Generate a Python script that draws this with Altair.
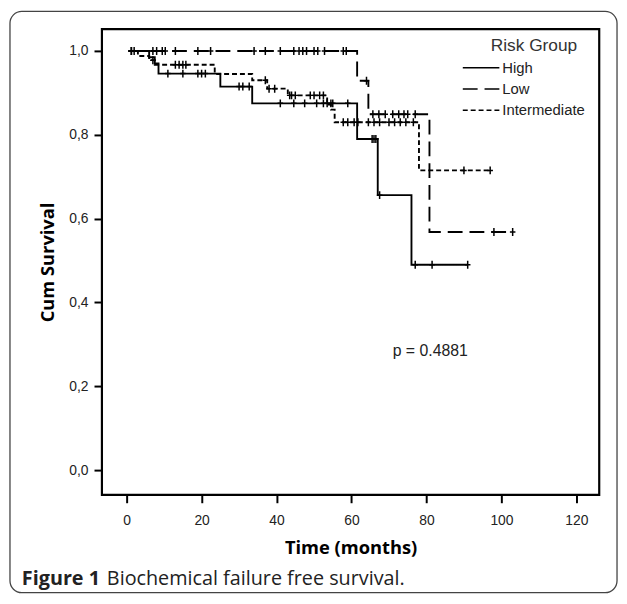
import altair as alt
import pandas as pd

groups = ["High", "Low", "Intermediate"]

# Kaplan-Meier step points (time in months, cumulative survival)
high_t = [0.5, 6, 7.5, 8.5, 25, 33.5, 61.5, 67, 76, 91]
high_s = [1.0, 0.985, 0.97, 0.946, 0.915, 0.875, 0.79, 0.656, 0.49, 0.49]
low_t = [0.5, 61.5, 64.5, 80.8, 103]
low_s = [1.0, 0.929, 0.849, 0.568, 0.568]
int_t = [0.5, 3, 6, 7.5, 23.5, 33.5, 37.5, 43, 53.5, 54.5, 55.5, 78, 97]
int_s = [1.0, 0.988, 0.978, 0.967, 0.945, 0.93, 0.91, 0.894, 0.872, 0.86, 0.83, 0.715, 0.715]

# censored observations (time in months)
high_cens = [1.2, 11, 15, 19, 20, 21, 30, 31, 32.7, 41, 44.6, 47.5, 50.7, 52.5,
             53.5, 54.5, 55, 59, 65.5, 66, 66.5, 67.5, 77, 81.5, 91]
low_cens = [1.3, 7, 8, 9.5, 10.3, 13, 19, 22.4, 34, 37, 41, 44.6, 46, 47, 48, 50,
            51, 52.8, 57.8, 58.6, 64, 65.7, 67.3, 69, 71, 72.6, 74, 75, 77, 98, 103]
int_cens = [2, 7, 13, 14, 15, 15.8, 37, 38, 39.5, 43.5, 44, 45, 49, 50, 51.5, 52.5,
            57.8, 59, 60.7, 61.7, 64.5, 66, 67.5, 70, 71.5, 73, 74.5, 76.5, 90, 97]

x_ticks = [0, 20, 40, 60, 80, 100, 120]
y_ticks = [0.0, 0.2, 0.4, 0.6, 0.8, 1.0]

p_text = "p = 0.4881"
p_pos = (81, 0.283)
x_title = "Time (months)"
y_title = "Cum Survival"
legend_title = "Risk Group"
caption_bold = "Figure 1"
caption_rest = "Biochemical failure free survival."

series = {"High": (high_t, high_s, high_cens),
          "Low": (low_t, low_s, low_cens),
          "Intermediate": (int_t, int_s, int_cens)}

step_rows, cens_rows = [], []
for g, (ts, ss, cs) in series.items():
    for t, s in zip(ts, ss):
        step_rows.append({"group": g, "time": t, "surv": s})
    for c in cs:
        val = ss[0]
        for t, s in zip(ts, ss):
            if t <= c:
                val = s
        cens_rows.append({"group": g, "time": c, "surv": val})

steps = pd.DataFrame(step_rows)
cens = pd.DataFrame(cens_rows)
legend_df = pd.DataFrame({"group": groups})

W, H = 503, 471
xscale = alt.Scale(domain=[-6.6, 126.1], nice=False, zero=False)
yscale = alt.Scale(domain=[-0.059, 1.052], nice=False, zero=False)
dash_scale = alt.Scale(domain=groups, range=[[1, 0], [15, 7], [5, 3]])

xaxis = alt.Axis(values=x_ticks, title=x_title, grid=False, domain=False,
                 tickSize=8, tickWidth=2, tickColor="black",
                 labelFont="Liberation Sans", labelFontSize=14, labelColor="#222",
                 labelPadding=11, titleFont="Open Sans", titleFontSize=18.5,
                 titleFontWeight="bold", titleColor="black", titlePadding=11)
yaxis = alt.Axis(values=y_ticks, title=y_title, grid=False, domain=False,
                 tickSize=8, tickWidth=2, tickColor="black",
                 labelExpr="replace(format(datum.value, '.1f'), '.', ',')",
                 labelFont="Liberation Sans", labelFontSize=14, labelColor="#222",
                 labelPadding=6, titleFont="Open Sans", titleFontSize=18.5,
                 titleFontWeight="bold", titleColor="black", titlePadding=12)

lines = alt.Chart(steps).mark_line(interpolate="step-after", strokeWidth=1.9,
                                   color="black").encode(
    x=alt.X("time:Q", scale=xscale, axis=xaxis),
    y=alt.Y("surv:Q", scale=yscale, axis=yaxis),
    strokeDash=alt.StrokeDash("group:N", scale=dash_scale, legend=None),
    detail="group:N",
)

points = alt.Chart(cens).mark_point(shape="M-0.7,0L0.7,0M0,-1L0,1", size=64,
                                    filled=False, strokeWidth=1.5, color="black",
                                    opacity=1).encode(
    x=alt.X("time:Q", scale=xscale),
    y=alt.Y("surv:Q", scale=yscale),
)

ptext = alt.Chart(pd.DataFrame({"time": [p_pos[0]], "surv": [p_pos[1]],
                                "label": [p_text]})).mark_text(
    font="Liberation Sans", fontSize=16, color="#222").encode(
    x=alt.X("time:Q", scale=xscale), y=alt.Y("surv:Q", scale=yscale), text="label:N")

one = pd.DataFrame({"k": [0]})
border = alt.Chart(one).mark_rect(fillOpacity=0, stroke="#444", strokeWidth=1.3,
                                  cornerRadius=12).encode(
    x=alt.value(-93), x2=alt.value(521), y=alt.value(-18), y2=alt.value(570))

frame = alt.Chart(one).mark_rect(fillOpacity=0, stroke="black", strokeWidth=2.2).encode(
    x=alt.value(0), x2=alt.value(W), y=alt.value(0), y2=alt.value(H))

cap1 = alt.Chart(one).mark_text(align="left", baseline="middle", font="Open Sans",
                                fontSize=20, fontWeight="bold", color="#222").encode(
    x=alt.value(-81), y=alt.value(556), text=alt.value(caption_bold))
cap2 = alt.Chart(one).mark_text(align="left", baseline="middle", font="Open Sans",
                                fontSize=20, color="#222").encode(
    x=alt.value(5), y=alt.value(556), text=alt.value(caption_rest))

# legend (drawn from the group list)
leg_y = alt.Y("group:N", axis=None,
              scale=alt.Scale(type="point", domain=groups, range=[39, 82], padding=0))
leg_rules = alt.Chart(legend_df).mark_rule(strokeWidth=1.6, color="black").encode(
    x=alt.value(365), x2=alt.value(402), y=leg_y,
    strokeDash=alt.StrokeDash("group:N", scale=dash_scale, legend=None))
leg_labels = alt.Chart(legend_df).mark_text(
    align="left", baseline="middle", font="Liberation Sans", fontSize=15,
    color="#222").encode(x=alt.value(405), y=leg_y, text="group:N")
leg_title = alt.Chart(one).mark_text(
    align="center", baseline="middle", font="Liberation Sans", fontSize=17.5,
    color="#333").encode(x=alt.value(437), y=alt.value(17),
                         text=alt.value(legend_title))

main = alt.layer(border, frame, lines, points, ptext, cap1, cap2, leg_title)
legend = alt.layer(leg_rules, leg_labels)

chart = alt.layer(main, legend).resolve_scale(y="independent").properties(
    width=W, height=H,
    padding={"left": 95, "top": 18, "right": 20, "bottom": 104},
    autosize=alt.AutoSizeParams(type="none"),
    background="white",
).configure_view(stroke="transparent")

chart.save("out.html", embed_options={"renderer": "svg", "actions": False})
